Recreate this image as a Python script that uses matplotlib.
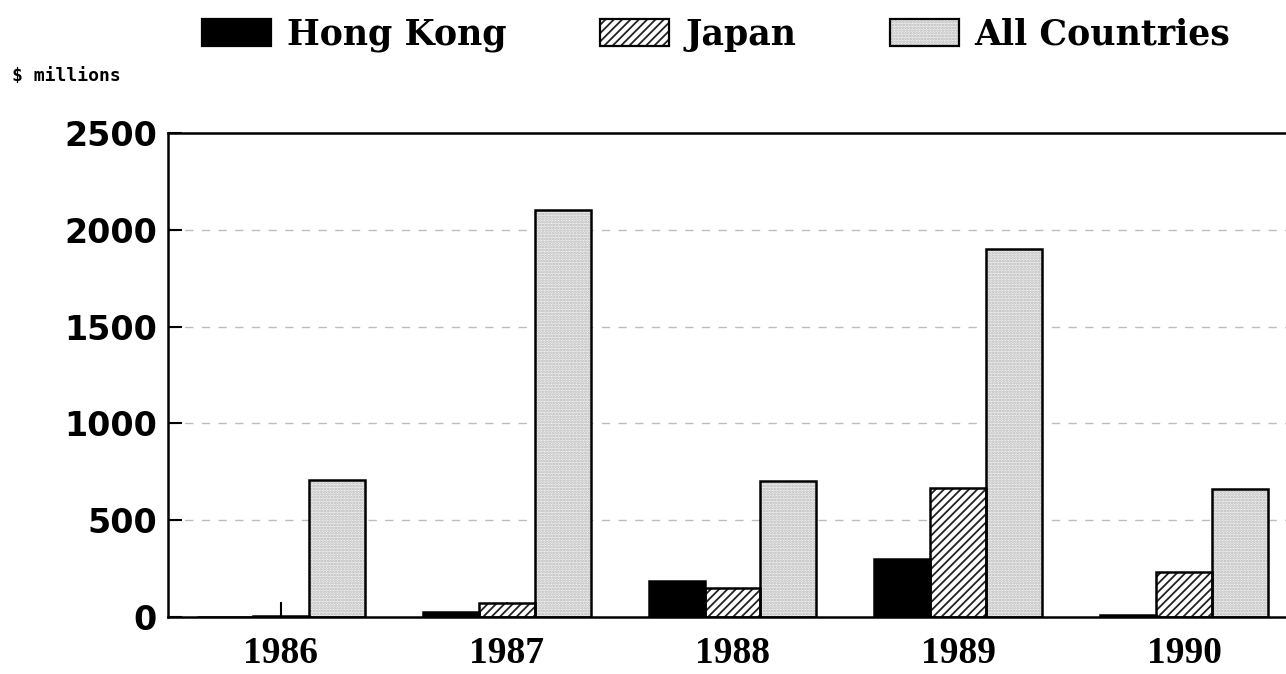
import matplotlib
matplotlib.use("Agg")
import matplotlib.pyplot as plt
from matplotlib.patches import Patch
import numpy as np

years = ["1986", "1987", "1988", "1989", "1990"]
hong_kong = [0, 25, 185, 300, 12]
japan = [4, 70, 150, 665, 230]
all_countries = [710, 2100, 700, 1900, 660]
series_names = ["Hong Kong", "Japan", "All Countries"]
y_ticks = [0, 500, 1000, 1500, 2000, 2500]

plt.rcParams["hatch.linewidth"] = 1.3

fig = plt.figure(figsize=(12.86, 6.74), dpi=100)
ax = fig.add_axes([168 / 1286, 1 - 617 / 674, 1129 / 1286, (617 - 133) / 674])

x = np.arange(len(years))
w = 0.248

styles = [
    dict(facecolor="black", hatchcolor="black", hatch=None),
    dict(facecolor="white", hatchcolor="#222222", hatch="////"),
    dict(facecolor="#f3f3f3", hatchcolor="#b4b4b4", hatch="......"),
]

for i, (vals, st) in enumerate(zip([hong_kong, japan, all_countries], styles)):
    ax.bar(x + (i - 1) * w, vals, width=w, facecolor=st["facecolor"],
           edgecolor=st["hatchcolor"], hatch=st["hatch"], linewidth=0, zorder=2)
    # outline drawn separately so hatch colour and border colour can differ
    ax.bar(x + (i - 1) * w, vals, width=w, facecolor="none",
           edgecolor="black", linewidth=1.8, zorder=3)

ax.set_xlim(-0.5, 4.5)
ax.set_ylim(0, 2500)
ax.set_yticks(y_ticks)
ax.set_yticklabels([str(v) for v in y_ticks], fontsize=24, fontweight="bold",
                   family="DejaVu Sans")
ax.set_xticks(x)
ax.set_xticklabels(years, fontsize=27, fontweight="bold", family="Liberation Serif")

ax.tick_params(axis="y", direction="in", length=10, width=1.5, pad=8)
ax.tick_params(axis="x", direction="in", length=11, width=1.5, pad=14)

for v in y_ticks[1:-1]:
    ax.axhline(v, color="#bdbdbd", linewidth=1.0, linestyle=(0, (6, 6)), zorder=1)

for side in ["left", "bottom", "top", "right"]:
    ax.spines[side].set_linewidth(1.8)
    ax.spines[side].set_color("black")

fig.text(12 / 1286, 1 - 76 / 674, "$ millions", fontsize=13, fontweight="bold",
         family="DejaVu Sans Mono", va="center", ha="left")

# legend keys: a fill patch (with its own hatch colour) overlaid by a black outline
handles = []
for st in styles:
    fill = Patch(facecolor=st["facecolor"], edgecolor=st["hatchcolor"],
                 hatch=st["hatch"], linewidth=0)
    outline = Patch(facecolor="none", edgecolor="black", linewidth=1.6)
    handles.append((fill, outline))
fig.legend(handles, series_names, ncol=3, loc="center", frameon=False,
           bbox_to_anchor=(716 / 1286, 1 - 35 / 674),
           prop=dict(family="DejaVu Serif", weight="bold", size=25),
           handlelength=2.0, handleheight=0.8, handletextpad=0.45,
           columnspacing=2.7)

fig.savefig("out.png", dpi=100)
